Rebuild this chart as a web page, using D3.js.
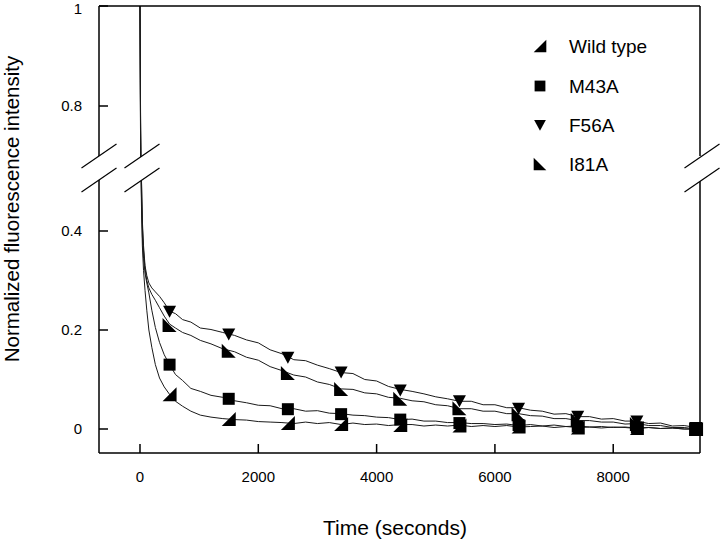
<!DOCTYPE html>
<html>
<head>
<meta charset="utf-8">
<script src="https://cdn.jsdelivr.net/npm/d3@7/dist/d3.min.js"></script>
<style>
  html, body { margin: 0; padding: 0; background: #fff; }
  svg { display: block; font-family: "Liberation Sans", Arial, sans-serif; }
</style>
</head>
<body>
<svg id="chart" width="720" height="544"></svg>
<script>
// ---------- DATA ----------
const seriesNames = ["Wild type", "M43A", "F56A", "I81A"];
const times = [0, 8, 15, 25, 40, 60, 85, 115, 150, 200, 260, 330, 410, 500, 600, 720, 860, 1020, 1200,
  1400, 1600, 1800, 2000, 2200, 2400, 2600, 2800, 3000, 3200, 3400, 3600, 3800, 4000, 4200, 4400,
  4600, 4800, 5000, 5200, 5400, 5600, 5800, 6000, 6200, 6400, 6600, 6800, 7000, 7200, 7400, 7600,
  7800, 8000, 8200, 8400, 8600, 8800, 9000, 9200, 9400];
const wildType = [1.0, 0.76, 0.6, 0.45, 0.37, 0.32, 0.28, 0.24, 0.2, 0.165, 0.13, 0.103, 0.085, 0.07, 0.056, 0.046, 0.036, 0.028, 0.024,
  0.021, 0.019, 0.018, 0.015, 0.014, 0.013, 0.011, 0.014, 0.011, 0.013, 0.009, 0.012, 0.009, 0.010, 0.007, 0.009,
  0.009, 0.006, 0.008, 0.006, 0.008, 0.005, 0.007, 0.005, 0.007, 0.004, 0.005, 0.006, 0.003, 0.005, 0.003, 0.004,
  0.002, 0.004, 0.003, 0.001, 0.003, 0.001, 0.002, 0.000, 0.000];
const m43a = [1.0, 0.78, 0.62, 0.47, 0.39, 0.345, 0.315, 0.295, 0.275, 0.24, 0.205, 0.175, 0.15, 0.13, 0.110, 0.098, 0.082, 0.076, 0.068,
  0.064, 0.057, 0.053, 0.048, 0.047, 0.041, 0.041, 0.036, 0.037, 0.032, 0.031, 0.028, 0.027, 0.024, 0.023, 0.019,
  0.020, 0.016, 0.016, 0.013, 0.013, 0.011, 0.011, 0.009, 0.010, 0.007, 0.009, 0.006, 0.008, 0.005, 0.006, 0.004,
  0.005, 0.003, 0.004, 0.002, 0.003, 0.001, 0.002, 0.000, 0.000];
const f56a = [1.0, 0.82, 0.68, 0.52, 0.42, 0.37, 0.33, 0.31, 0.295, 0.285, 0.277, 0.268, 0.255, 0.238, 0.233, 0.221, 0.216, 0.204, 0.201,
  0.195, 0.189, 0.180, 0.174, 0.160, 0.152, 0.140, 0.138, 0.129, 0.122, 0.114, 0.112, 0.100, 0.097, 0.086, 0.080,
  0.076, 0.071, 0.065, 0.061, 0.056, 0.056, 0.049, 0.049, 0.043, 0.043, 0.038, 0.036, 0.030, 0.031, 0.025, 0.025,
  0.020, 0.021, 0.016, 0.016, 0.011, 0.012, 0.006, 0.007, 0.003];
const i81a = [1.0, 0.8, 0.66, 0.5, 0.41, 0.36, 0.325, 0.3, 0.285, 0.272, 0.26, 0.245, 0.228, 0.212, 0.204, 0.195, 0.189, 0.179, 0.172,
  0.162, 0.156, 0.145, 0.139, 0.126, 0.118, 0.109, 0.105, 0.095, 0.090, 0.081, 0.080, 0.073, 0.071, 0.064, 0.062,
  0.057, 0.055, 0.049, 0.047, 0.041, 0.041, 0.036, 0.036, 0.031, 0.031, 0.027, 0.026, 0.021, 0.021, 0.017, 0.017,
  0.014, 0.014, 0.010, 0.011, 0.007, 0.007, 0.003, 0.003, 0.000];

const markerTimes = [500, 1500, 2500, 3400, 4400, 5400, 6400, 7400, 8400, 9400];
const wildTypeMarks = [0.07, 0.02, 0.012, 0.01, 0.008, 0.007, 0.005, 0.003, 0.002, 0.0];
const m43aMarks = [0.13, 0.061, 0.04, 0.03, 0.019, 0.012, 0.008, 0.005, 0.003, 0.0];
const f56aMarks = [0.238, 0.192, 0.145, 0.115, 0.079, 0.057, 0.042, 0.026, 0.016, 0.003];
const i81aMarks = [0.21, 0.158, 0.113, 0.081, 0.061, 0.042, 0.03, 0.018, 0.010, 0.0];

const xTicks = [0, 2000, 4000, 6000, 8000];
const yTicks = [0, 0.2, 0.4, 0.8, 1];
const yTickLabels = ["0", "0.2", "0.4", "0.8", "1"];
const xTitle = "Time (seconds)";
const yTitle = "Normalized fluorescence intensity";

// ---------- LAYOUT ----------
const svg = d3.select("#chart");
const pLeft = 99, pRight = 700, pTop = 6, pBottom = 453;
const x = d3.scaleLinear().domain([-693, 9467]).range([pLeft, pRight]);
// broken axis: 0..0.5 lower segment, 0.7..1 upper segment
const y = d3.scaleLinear().domain([0, 0.5, 0.7, 1]).range([429, 181.5, 156, 6]);

const lineSeries = [wildType, m43a, f56a, i81a];
const markSeries = [wildTypeMarks, m43aMarks, f56aMarks, i81aMarks];

const line = d3.line().x((d, i) => x(times[i])).y(d => y(d));

const g = svg.append("g");
lineSeries.forEach(vals => {
  g.append("path").datum(vals).attr("d", line)
    .attr("fill", "none").attr("stroke", "#1a1a1a").attr("stroke-width", 1);
});

// marker shapes
const shapes = [
  "M-7,7L7,7L7,-7Z",
  "M-6,-6H6V6H-6Z",
  "M-6.5,-5.5L6.5,-5.5L0,6.5Z",
  "M-7,-7L-7,7L7,7Z"
];

markSeries.forEach((vals, si) => {
  g.selectAll(null).data(vals).enter().append("path")
    .attr("d", shapes[si])
    .attr("transform", (d, i) => `translate(${x(markerTimes[i])},${y(d)})`)
    .attr("fill", "#000");
});

// frame
const frame = svg.append("g").attr("stroke", "#000").attr("stroke-width", 1.5).attr("fill", "none");
const yBreakTop = y(0.7), yBreakBot = y(0.7) + 24;
frame.append("line").attr("x1", pLeft).attr("x2", pRight).attr("y1", pTop).attr("y2", pTop);
frame.append("line").attr("x1", pLeft).attr("x2", pRight).attr("y1", pBottom).attr("y2", pBottom);
frame.append("line").attr("x1", pLeft).attr("x2", pLeft).attr("y1", pTop).attr("y2", yBreakTop);
frame.append("line").attr("x1", pLeft).attr("x2", pLeft).attr("y1", yBreakBot).attr("y2", pBottom);
frame.append("line").attr("x1", pRight).attr("x2", pRight).attr("y1", pTop).attr("y2", yBreakTop);
frame.append("line").attr("x1", pRight).attr("x2", pRight).attr("y1", yBreakBot).attr("y2", pBottom);

yTicks.forEach(t => {
  frame.append("line").attr("x1", pLeft).attr("x2", pLeft + 9).attr("y1", y(t)).attr("y2", y(t));
});
xTicks.forEach(t => {
  frame.append("line").attr("x1", x(t)).attr("x2", x(t)).attr("y1", pBottom).attr("y2", pBottom - 9);
});

// break marks
function breakMark(cx) {
  const hw = 17.5, hh = 12;
  svg.append("path")
    .attr("d", `M${cx - hw},${yBreakTop + hh}L${cx + hw},${yBreakTop - hh}L${cx + hw},${yBreakBot - hh}L${cx - hw},${yBreakBot + hh}Z`)
    .attr("fill", "#fff").attr("stroke", "none");
  [yBreakTop, yBreakBot].forEach(cy => {
    svg.append("line")
      .attr("x1", cx - hw).attr("y1", cy + hh).attr("x2", cx + hw).attr("y2", cy - hh)
      .attr("stroke", "#000").attr("stroke-width", 1.2);
  });
}
breakMark(pLeft);
breakMark(x(0) + 2);
breakMark(pRight + 2);

// tick labels
yTicks.forEach((t, i) => {
  svg.append("text").attr("x", 82).attr("y", Math.max(y(t), 9)).attr("dy", "0.35em")
    .attr("text-anchor", "end").attr("font-size", 15).text(yTickLabels[i]);
});
xTicks.forEach(t => {
  svg.append("text").attr("x", x(t)).attr("y", 477).attr("dy", "0.35em")
    .attr("text-anchor", "middle").attr("font-size", 15).text(d3.format("d")(t));
});

// titles
svg.append("text").attr("x", 395).attr("y", 535)
  .attr("text-anchor", "middle").attr("font-size", 21).text(xTitle);
svg.append("text").attr("transform", "translate(19,209) rotate(-90)")
  .attr("text-anchor", "middle").attr("font-size", 20.5).text(yTitle);

// legend
const legendY = [46, 86, 125, 164];
seriesNames.forEach((name, i) => {
  svg.append("path").attr("d", shapes[i])
    .attr("transform", `translate(540,${legendY[i]}) scale(0.9)`).attr("fill", "#000");
  svg.append("text").attr("x", 569).attr("y", legendY[i]).attr("dy", "0.35em")
    .attr("font-size", 19).text(name);
});
</script>
</body>
</html>
